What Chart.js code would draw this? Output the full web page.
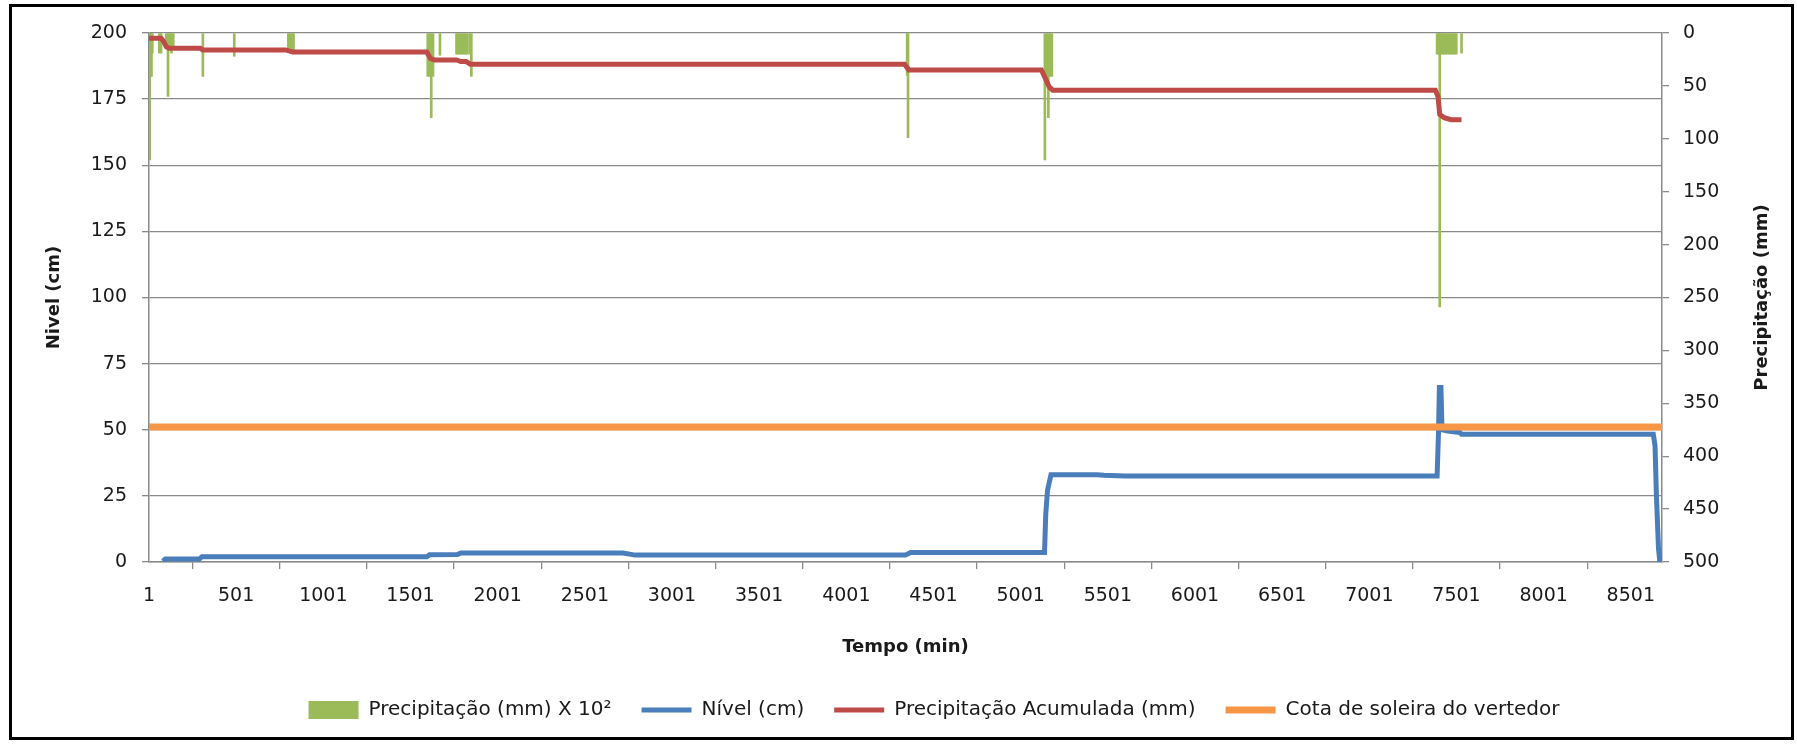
<!DOCTYPE html>
<html>
<head>
<meta charset="utf-8">
<title>Nível x Precipitação</title>
<script src="https://cdn.jsdelivr.net/npm/chart.js@4.4.1/dist/chart.umd.min.js"></script>
<style>
  html, body { margin: 0; padding: 0; background: #fff; }
  #wrap { position: relative; width: 1797px; height: 745px; }
  #frame { position: absolute; left: 9px; top: 4px; width: 1779px; height: 730px; border: 3px solid #000; pointer-events: none; }
</style>
</head>
<body>
<div id="wrap">
  <canvas id="grafico" width="1797" height="745"></canvas>
  <div id="frame"></div>
</div>
<script>
// eixo x: tempo (min)
const xTicks = [1, 501, 1001, 1501, 2001, 2501, 3001, 3501, 4001, 4501, 5001, 5501, 6001, 6501, 7001, 7501, 8001, 8501];

// precipitação (mm) x 10² — barras penduradas no eixo direito
const tempoPrec = [1, 5, 10, 15, 20, 60, 70, 100, 110, 120, 130, 140, 310, 490,
  800, 810, 820, 830, 1600, 1610, 1620, 1630, 1670,
  1765, 1775, 1785, 1795, 1805, 1815, 1825, 1840, 1850,
  4350, 4355, 5140, 5150, 5160, 5170, 5180,
  7390, 7400, 7405, 7410, 7420, 7430, 7440, 7450, 7460, 7470, 7480, 7490, 7500, 7530];
const precipitacao = [19, 120, 41, 41, 19, 19, 19, 14, 60, 14, 19, 14, 41, 22,
  16, 16, 16, 16, 41, 41, 80, 41, 21,
  20, 20, 20, 20, 20, 20, 20, 20, 41,
  40, 99, 120, 41, 80, 41, 41,
  20, 20, 259, 20, 20, 20, 20, 20, 20, 20, 20, 20, 20, 19];

// nível (cm)
const tempoNivel = [80, 95, 290, 305, 1595, 1610, 1770, 1790, 2720, 2790, 4340, 4370,
  5138, 5145, 5155, 5175, 5440, 5480, 5600, 7390, 7398, 7403, 7412, 7418, 7450, 7520, 7530,
  8630, 8640, 8648, 8660, 8668];
const nivel = [0.3, 1.1, 1.1, 2.0, 2.0, 2.7, 2.8, 3.4, 3.4, 2.6, 2.6, 3.6,
  3.6, 18, 27, 33, 33, 32.8, 32.5, 32.5, 49, 66, 66, 50, 49.5, 49, 48.3,
  48.3, 44, 25, 5, 0];

// precipitação acumulada (mm)
const tempoAcum = [1, 70, 85, 100, 115, 295, 310, 785, 825, 1595, 1615, 1640, 1765, 1790, 1820, 1845,
  4335, 4360, 5120, 5140, 5165, 5185, 7380, 7395, 7405, 7430, 7470, 7530];
const precAcum = [5, 5, 8, 13, 14.5, 14.5, 16, 16, 18, 18, 24, 25.5, 25.5, 27, 27, 29.5,
  29.5, 35, 35, 42, 51, 54, 54, 60, 77, 80, 82, 82];

// cota de soleira do vertedor (cm)
const tempoCota = [1, 8680];
const cota = [51, 51];

const rotulos = {
  prec: 'Precipitação (mm) X 10²',
  nivel: 'Nível (cm)',
  acum: 'Precipitação Acumulada (mm)',
  cota: 'Cota de soleira do vertedor',
  eixoX: 'Tempo (min)',
  eixoY: 'Nivel (cm)',
  eixoY2: 'Precipitação (mm)'
};

const pares = (xs, ys) => xs.map((x, i) => ({ x, y: ys[i] }));

const corTexto = '#1a1a1a';
const corGrade = '#8a8a8a';
const fonteTick = { family: "'DejaVu Sans', sans-serif", size: 19 };
const fonteTitulo = { family: "'DejaVu Sans', sans-serif", size: 18, weight: 'bold' };

// título do eixo direito lido de baixo para cima
const tituloDireito = {
  id: 'tituloDireito',
  afterDraw(chart) {
    const s = chart.scales.y1;
    const a = chart.chartArea;
    const ctx = chart.ctx;
    ctx.save();
    ctx.translate(s.right - 35, (a.top + a.bottom) / 2);
    ctx.rotate(-Math.PI / 2);
    ctx.font = "bold 18px 'DejaVu Sans', sans-serif";
    ctx.fillStyle = corTexto;
    ctx.textAlign = 'center';
    ctx.textBaseline = 'middle';
    ctx.fillText(rotulos.eixoY2, 0, 0);
    ctx.restore();
  }
};

new Chart(document.getElementById('grafico'), {
  type: 'line',
  data: {
    datasets: [
      {
        type: 'bar',
        label: rotulos.prec,
        data: pares(tempoPrec, precipitacao),
        yAxisID: 'y1',
        backgroundColor: '#9bbb59',
        borderWidth: 0,
        barThickness: 2,
        pointStyle: 'rect',
        order: 4
      },
      {
        label: rotulos.nivel,
        data: pares(tempoNivel, nivel),
        yAxisID: 'y',
        borderColor: '#4a7ebb',
        backgroundColor: '#4a7ebb',
        borderWidth: 5,
        pointRadius: 0,
        pointStyle: 'line',
        tension: 0,
        order: 3
      },
      {
        label: rotulos.acum,
        data: pares(tempoAcum, precAcum),
        yAxisID: 'y1',
        borderColor: '#be4b48',
        backgroundColor: '#be4b48',
        borderWidth: 5,
        pointRadius: 0,
        pointStyle: 'line',
        tension: 0,
        order: 2
      },
      {
        label: rotulos.cota,
        data: pares(tempoCota, cota),
        yAxisID: 'y',
        borderColor: '#f79646',
        backgroundColor: '#f79646',
        borderWidth: 7,
        pointRadius: 0,
        pointStyle: 'line',
        order: 1
      }
    ]
  },
  options: {
    responsive: false,
    animation: false,
    events: [],
    layout: { padding: { left: 71, right: 0, top: 33, bottom: 15 } },
    plugins: {
      tooltip: { enabled: false },
      legend: {
        display: true,
        position: 'bottom',
        labels: {
          usePointStyle: true,
          pointStyleWidth: 50,
          boxHeight: 18,
          padding: 30,
          color: corTexto,
          font: { family: "'DejaVu Sans', sans-serif", size: 20 },
          sort: (a, b) => a.datasetIndex - b.datasetIndex
        }
      }
    },
    scales: {
      x: {
        type: 'linear',
        min: 1,
        max: 8680,
        offset: false,
        afterBuildTicks: (s) => { s.ticks = xTicks.map(v => ({ value: v })); },
        afterFit: (s) => { s.height = 108; },
        ticks: { color: corTexto, font: fonteTick, padding: 16, maxRotation: 0, autoSkip: false, callback: (v) => String(v) },
        grid: { display: true, drawOnChartArea: false, drawTicks: true, tickLength: 7, color: corGrade, lineWidth: 1.3 },
        border: { display: true, color: corGrade, width: 1.5 },
        title: { display: true, text: rotulos.eixoX, color: corTexto, font: fonteTitulo, padding: { top: 0, bottom: 12 } }
      },
      y: {
        position: 'left',
        min: 0,
        max: 200,
        afterFit: (s) => { s.width = 149 - 71; },
        ticks: { stepSize: 25, color: corTexto, font: fonteTick, padding: 15 },
        grid: { color: corGrade, lineWidth: 1.3, tickLength: 7 },
        border: { display: true, color: corGrade, width: 1.5 },
        title: { display: true, text: rotulos.eixoY, color: corTexto, font: fonteTitulo, padding: { top: -27, bottom: 0 } }
      },
      y1: {
        position: 'right',
        reverse: true,
        min: 0,
        max: 500,
        afterFit: (s) => { s.width = 1797 - 1662; },
        ticks: { stepSize: 50, color: corTexto, font: fonteTick, padding: 14 },
        grid: { display: true, drawOnChartArea: false, drawTicks: true, tickLength: 7, color: corGrade, lineWidth: 1.3 },
        border: { display: true, color: corGrade, width: 1.5 }
      }
    }
  },
  plugins: [tituloDireito]
});
</script>
</body>
</html>
